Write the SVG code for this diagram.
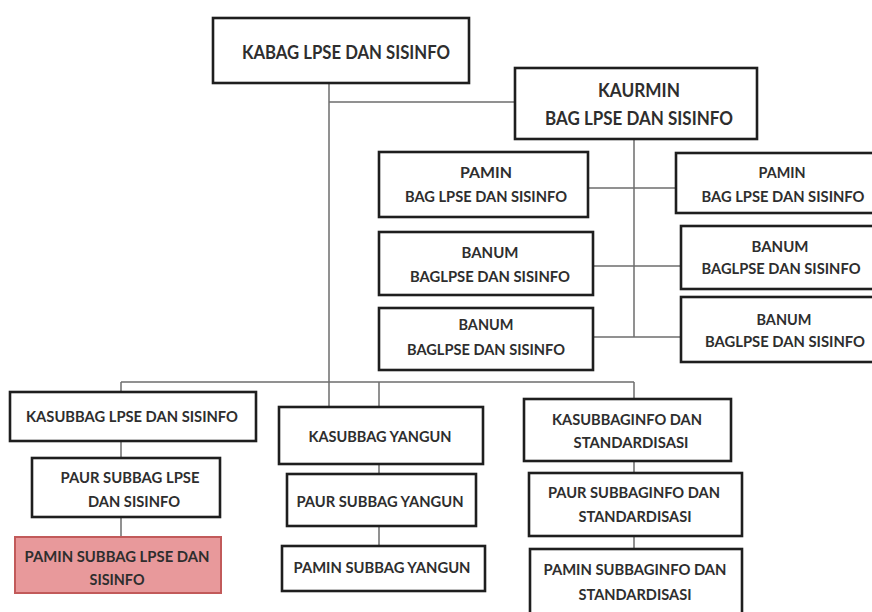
<svg xmlns="http://www.w3.org/2000/svg" width="872" height="612" viewBox="0 0 872 612">
<style>
.box{fill:#fff;stroke:#1e1e1e;stroke-width:2.6}
.pink{fill:#e8999b;stroke:#c25a5a;stroke-width:2}
.t{font-family:Lato,"Open Sans","Liberation Sans",sans-serif;font-weight:bold;fill:#2e2e2e;text-anchor:middle}
.l{font-size:19px}
.m{font-size:15px}
.s{font-size:16px}
.c{stroke:#6e6e6e;stroke-width:1.5;fill:none}
</style>
<rect width="872" height="612" fill="#fff"/>
<g id="connectors">
<path class="c" d="M329 83V407M329 102H515M634 139V337M588 188H676M593 266H681M593 337H681M121 382H634M121 382V392M379 382V407M634 382V399M121 441V458M121 517V537M379 464V474M379 526V546M634 461V473M634 536V548"/>
</g>
<g id="kabag">
<rect class="box" x="213" y="18" width="256" height="65"/>
<text class="t l" x="346" y="59" textLength="208" lengthAdjust="spacingAndGlyphs">KABAG LPSE DAN SISINFO</text>
</g>
<g id="kaurmin">
<rect class="box" x="515" y="68" width="242" height="71"/>
<text class="t l" x="639" y="97" textLength="82" lengthAdjust="spacingAndGlyphs">KAURMIN</text>
<text class="t l" x="639" y="125" textLength="188" lengthAdjust="spacingAndGlyphs">BAG LPSE DAN SISINFO</text>
</g>
<g id="pamin-left">
<rect class="box" x="379" y="152" width="209" height="65"/>
<text class="t m" x="486" y="178" textLength="52" lengthAdjust="spacingAndGlyphs">PAMIN</text>
<text class="t m" x="486" y="202" textLength="162" lengthAdjust="spacingAndGlyphs">BAG LPSE DAN SISINFO</text>
</g>
<g id="pamin-right">
<rect class="box" x="676" y="153" width="200" height="60"/>
<text class="t m" x="782" y="178" textLength="47" lengthAdjust="spacingAndGlyphs">PAMIN</text>
<text class="t m" x="783" y="202" textLength="163" lengthAdjust="spacingAndGlyphs">BAG LPSE DAN SISINFO</text>
</g>
<g id="banum-left-1">
<rect class="box" x="379" y="232" width="214" height="63"/>
<text class="t m" x="490" y="258" textLength="57" lengthAdjust="spacingAndGlyphs">BANUM</text>
<text class="t m" x="490" y="282" textLength="160" lengthAdjust="spacingAndGlyphs">BAGLPSE DAN SISINFO</text>
</g>
<g id="banum-right-1">
<rect class="box" x="681" y="226" width="195" height="63"/>
<text class="t m" x="780" y="252" textLength="57" lengthAdjust="spacingAndGlyphs">BANUM</text>
<text class="t m" x="781" y="274" textLength="159" lengthAdjust="spacingAndGlyphs">BAGLPSE DAN SISINFO</text>
</g>
<g id="banum-left-2">
<rect class="box" x="379" y="308" width="214" height="62"/>
<text class="t m" x="486" y="330" textLength="55" lengthAdjust="spacingAndGlyphs">BANUM</text>
<text class="t m" x="486" y="355" textLength="158" lengthAdjust="spacingAndGlyphs">BAGLPSE DAN SISINFO</text>
</g>
<g id="banum-right-2">
<rect class="box" x="681" y="297" width="195" height="65"/>
<text class="t m" x="784" y="325" textLength="55" lengthAdjust="spacingAndGlyphs">BANUM</text>
<text class="t m" x="785" y="347" textLength="160" lengthAdjust="spacingAndGlyphs">BAGLPSE DAN SISINFO</text>
</g>
<g id="kasubbag-lpse">
<rect class="box" x="10" y="392" width="246" height="49"/>
<text class="t s" x="132" y="422" textLength="212" lengthAdjust="spacingAndGlyphs">KASUBBAG LPSE DAN SISINFO</text>
</g>
<g id="paur-lpse">
<rect class="box" x="32" y="458" width="188" height="59"/>
<text class="t s" x="130" y="483" textLength="139" lengthAdjust="spacingAndGlyphs">PAUR SUBBAG LPSE</text>
<text class="t s" x="134" y="507" textLength="92" lengthAdjust="spacingAndGlyphs">DAN SISINFO</text>
</g>
<g id="pamin-lpse">
<rect class="pink" x="15" y="537" width="206" height="56"/>
<text class="t s" x="117" y="562" textLength="185" lengthAdjust="spacingAndGlyphs">PAMIN SUBBAG LPSE DAN</text>
<text class="t s" x="117" y="585" textLength="55" lengthAdjust="spacingAndGlyphs">SISINFO</text>
</g>
<g id="kasubbag-yangun">
<rect class="box" x="279" y="407" width="204" height="57"/>
<text class="t s" x="380" y="442" textLength="143" lengthAdjust="spacingAndGlyphs">KASUBBAG YANGUN</text>
</g>
<g id="paur-yangun">
<rect class="box" x="287" y="474" width="189" height="52"/>
<text class="t s" x="380" y="507" textLength="167" lengthAdjust="spacingAndGlyphs">PAUR SUBBAG YANGUN</text>
</g>
<g id="pamin-yangun">
<rect class="box" x="282" y="546" width="203" height="45"/>
<text class="t s" x="382" y="573" textLength="177" lengthAdjust="spacingAndGlyphs">PAMIN SUBBAG YANGUN</text>
</g>
<g id="kasubbaginfo">
<rect class="box" x="524" y="399" width="207" height="62"/>
<text class="t s" x="627" y="425" textLength="150" lengthAdjust="spacingAndGlyphs">KASUBBAGINFO DAN</text>
<text class="t s" x="631" y="448" textLength="115" lengthAdjust="spacingAndGlyphs">STANDARDISASI</text>
</g>
<g id="paur-info">
<rect class="box" x="529" y="473" width="213" height="63"/>
<text class="t s" x="634" y="498" textLength="172" lengthAdjust="spacingAndGlyphs">PAUR SUBBAGINFO DAN</text>
<text class="t s" x="635" y="522" textLength="113" lengthAdjust="spacingAndGlyphs">STANDARDISASI</text>
</g>
<g id="pamin-info">
<rect class="box" x="530" y="549" width="212" height="66"/>
<text class="t s" x="635" y="575" textLength="183" lengthAdjust="spacingAndGlyphs">PAMIN SUBBAGINFO DAN</text>
<text class="t s" x="635" y="600" textLength="113" lengthAdjust="spacingAndGlyphs">STANDARDISASI</text>
</g>
</svg>
